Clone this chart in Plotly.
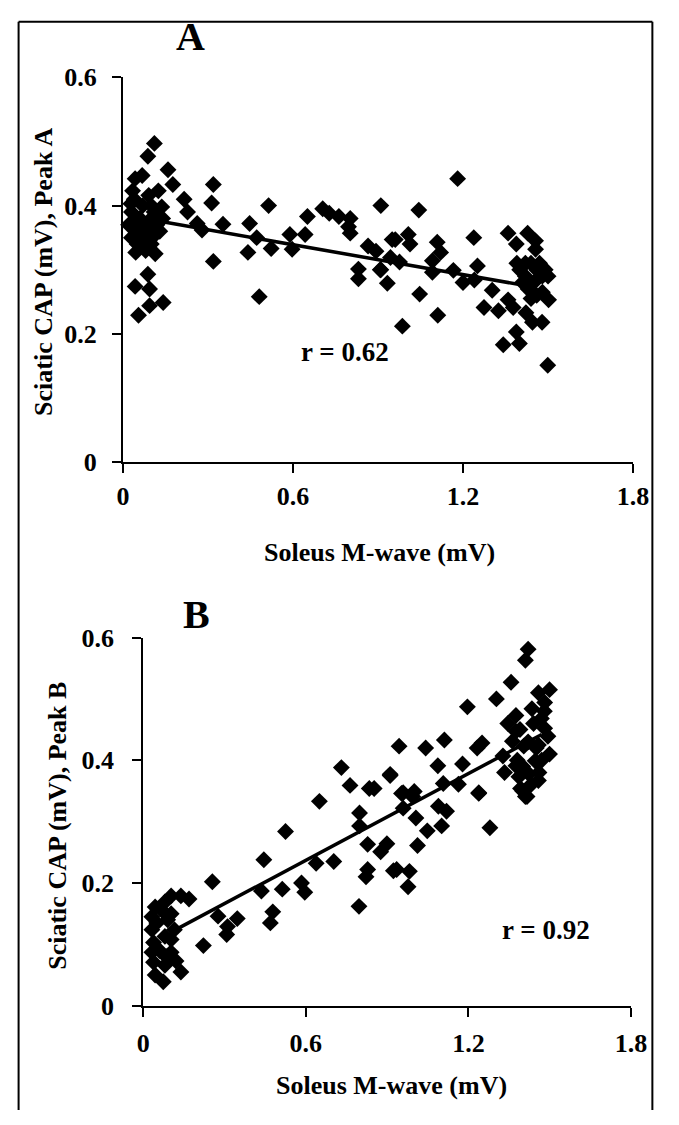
import plotly.graph_objects as go

# ---------------- Data ----------------
a_x = [0.111, 0.088, 0.159, 0.068, 0.043, 0.176, 0.319, 0.034, 0.125, 0.091,
       0.216, 0.313, 0.514, 0.910, 0.137, 0.100, 0.028, 0.228, 0.705, 0.728,
       0.762, 0.802, 0.651, 0.262, 0.353, 0.447, 0.279, 0.796, 0.802, 0.589,
       0.643, 0.472, 0.950, 0.114, 0.523, 0.597, 0.865, 0.893, 0.441, 0.114,
       0.045, 0.319, 0.831, 0.910, 0.831, 0.933, 0.088, 0.043, 0.094, 0.481,
       0.142, 0.094, 0.055,
       0.03, 0.04, 0.05, 0.06, 0.07, 0.08, 0.09, 0.10, 0.05, 0.03,
       0.07, 0.08, 0.12, 0.13, 0.14, 0.06, 0.04, 0.10, 0.11, 0.02,
       1.181, 1.044, 0.961, 1.007, 1.013, 1.109, 1.121, 1.238, 1.359, 1.388,
       1.428, 1.456, 1.456, 0.944, 0.976, 1.092, 1.092, 1.166, 1.251, 1.200,
       1.240, 0.908, 1.047, 1.111, 0.986, 1.303, 1.274, 1.325, 1.359, 1.377,
       1.422, 1.445, 1.479, 1.502, 1.388, 1.399, 1.342, 1.499,
       1.40, 1.42, 1.44, 1.46, 1.48, 1.45, 1.43, 1.47, 1.49, 1.41,
       1.46, 1.50, 1.39, 1.44, 1.48, 1.42]
a_y = [0.497, 0.477, 0.456, 0.447, 0.442, 0.433, 0.433, 0.423, 0.423, 0.416,
       0.410, 0.404, 0.400, 0.400, 0.398, 0.400, 0.403, 0.390, 0.395, 0.388,
       0.383, 0.380, 0.383, 0.372, 0.371, 0.372, 0.362, 0.367, 0.357, 0.355,
       0.355, 0.350, 0.347, 0.355, 0.333, 0.332, 0.337, 0.329, 0.327, 0.325,
       0.327, 0.313, 0.301, 0.300, 0.286, 0.279, 0.293, 0.274, 0.270, 0.258,
       0.249, 0.244, 0.229,
       0.390, 0.370, 0.360, 0.380, 0.350, 0.370, 0.360, 0.380, 0.340, 0.350,
       0.400, 0.330, 0.370, 0.360, 0.380, 0.345, 0.410, 0.340, 0.390, 0.370,
       0.442, 0.393, 0.347, 0.355, 0.340, 0.343, 0.327, 0.350, 0.357, 0.340,
       0.357, 0.345, 0.332, 0.319, 0.312, 0.314, 0.296, 0.299, 0.306, 0.280,
       0.284, 0.300, 0.262, 0.229, 0.212, 0.268, 0.241, 0.236, 0.253, 0.241,
       0.233, 0.218, 0.218, 0.253, 0.203, 0.185, 0.183, 0.151,
       0.300, 0.290, 0.310, 0.300, 0.290, 0.280, 0.270, 0.310, 0.300, 0.280,
       0.260, 0.290, 0.310, 0.255, 0.265, 0.310]

b_x = [0.525, 0.798, 0.798, 0.445, 0.255, 0.703, 0.638, 0.828, 0.876, 0.899,
       0.828, 0.822, 0.796, 0.923, 0.436, 0.513, 0.584, 0.596, 0.478, 0.469,
       0.276, 0.347, 0.311, 0.308, 0.222, 0.169, 0.139, 0.103,
       0.074, 0.044, 0.139, 0.121, 0.038, 0.080, 0.032, 0.103, 0.103, 0.038,
       0.032, 0.115, 0.080, 0.032, 0.044, 0.080, 0.068, 0.103, 0.050, 0.090,
       0.060, 0.085,
       0.959, 0.994, 1.006, 1.048, 1.101, 1.089, 1.119, 1.012, 1.279, 1.238,
       1.416, 0.935, 0.982, 0.977,
       1.420, 1.410, 1.357, 1.499, 1.458, 1.303, 1.196, 1.434, 1.481, 1.375,
       1.345, 1.469, 1.481, 1.493, 1.375, 1.250, 1.232, 1.111, 1.042, 0.944,
       1.362, 1.404, 1.458, 1.499, 1.327, 1.087, 1.178, 1.375, 1.400, 1.446,
       1.333, 1.386, 1.422, 1.458, 0.911, 1.107, 1.163, 1.392, 1.410, 1.238,
       0.959, 1.000, 0.852,
       0.731, 0.763, 0.834, 0.911, 0.953, 0.650,
       1.38, 1.42, 1.45, 1.47, 1.43, 1.40, 1.48, 1.44, 1.39, 1.46]
b_y = [0.284, 0.293, 0.314, 0.238, 0.202, 0.235, 0.232, 0.263, 0.251, 0.264,
       0.222, 0.210, 0.162, 0.220, 0.187, 0.190, 0.200, 0.185, 0.153, 0.135,
       0.146, 0.142, 0.129, 0.116, 0.098, 0.174, 0.179, 0.179,
       0.039, 0.050, 0.055, 0.073, 0.071, 0.066, 0.087, 0.087, 0.108, 0.103,
       0.124, 0.124, 0.113, 0.145, 0.161, 0.169, 0.156, 0.150, 0.135, 0.140,
       0.090, 0.080,
       0.322, 0.341, 0.306, 0.285, 0.293, 0.325, 0.317, 0.261, 0.290, 0.346,
       0.341, 0.222, 0.219, 0.194,
       0.581, 0.563, 0.527, 0.515, 0.510, 0.500, 0.487, 0.484, 0.494, 0.473,
       0.460, 0.468, 0.452, 0.439, 0.447, 0.428, 0.420, 0.433, 0.420, 0.423,
       0.431, 0.423, 0.425, 0.410, 0.407, 0.391, 0.394, 0.391, 0.390, 0.399,
       0.380, 0.373, 0.378, 0.367, 0.375, 0.362, 0.361, 0.354, 0.341, 0.347,
       0.347, 0.349, 0.354,
       0.388, 0.359, 0.354, 0.377, 0.346, 0.333,
       0.400, 0.430, 0.420, 0.400, 0.360, 0.350, 0.480, 0.460, 0.450, 0.380]

# regression lines (end points)
fit_a_x = [0.11, 1.45]
fit_a_y = [0.377, 0.273]
fit_b_x = [0.12, 1.47]
fit_b_y = [0.124, 0.442]

x_ticks = [0, 0.6, 1.2, 1.8]
x_ticktext = ["0", "0.6", "1.2", "1.8"]
y_ticks = [0, 0.2, 0.4, 0.6]
y_ticktext = ["0", "0.2", "0.4", "0.6"]

panel_labels = ["A", "B"]
r_labels = ["r = 0.62", "r = 0.92"]
x_title = "Soleus M-wave (mV)"
y_titles = ["Sciatic CAP (mV), Peak A", "Sciatic CAP (mV), Peak B"]

# ---------------- Figure ----------------
W, H = 679, 1125
FONT = "Liberation Serif"

def px(x):
    return x / W

def py(y):
    return 1 - y / H

fig = go.Figure()
marker = dict(symbol="diamond", size=13, color="black", line=dict(width=0))

fig.add_trace(go.Scatter(x=a_x, y=a_y, mode="markers", marker=marker,
                         xaxis="x", yaxis="y", cliponaxis=False, showlegend=False))
fig.add_trace(go.Scatter(x=fit_a_x, y=fit_a_y, mode="lines",
                         line=dict(color="black", width=3.5),
                         xaxis="x", yaxis="y", showlegend=False))
fig.add_trace(go.Scatter(x=b_x, y=b_y, mode="markers", marker=marker,
                         xaxis="x2", yaxis="y2", cliponaxis=False, showlegend=False))
fig.add_trace(go.Scatter(x=fit_b_x, y=fit_b_y, mode="lines",
                         line=dict(color="black", width=3.5),
                         xaxis="x2", yaxis="y2", showlegend=False))

tickfont = dict(family=FONT, size=26, color="black", weight="bold")
axis_common = dict(showgrid=False, zeroline=False, showline=True, linecolor="black",
                   linewidth=2, ticks="outside", ticklen=9, tickwidth=2,
                   tickcolor="black", tickfont=tickfont)

fig.update_layout(
    width=W, height=H,
    margin=dict(l=0, r=0, t=0, b=0),
    paper_bgcolor="white", plot_bgcolor="white",
    xaxis=dict(domain=[px(120), px(648)], range=[0, 1.8], tickvals=x_ticks,
               ticktext=x_ticktext, anchor="y", ticklabelstandoff=1, **axis_common),
    yaxis=dict(domain=[py(460), py(65)], range=[0, 0.6], tickvals=y_ticks,
               ticktext=y_ticktext, anchor="x", ticklabelstandoff=10, **axis_common),
    xaxis2=dict(domain=[px(141), px(646)], range=[0, 1.8], tickvals=x_ticks,
                ticktext=x_ticktext, anchor="y2", ticklabelstandoff=4, **axis_common),
    yaxis2=dict(domain=[py(1018), py(640)], range=[0, 0.6], tickvals=y_ticks,
                ticktext=y_ticktext, anchor="x2", ticklabelstandoff=13, **axis_common),
)

def ann(text, x, y, size, angle=0):
    fig.add_annotation(text=text, x=px(x), y=py(y), xref="paper", yref="paper",
                       showarrow=False, textangle=angle, xanchor="center", yanchor="middle",
                       font=dict(family=FONT, size=size, color="black", weight="bold"))

ann(panel_labels[0], 190, 23, 40)
ann(panel_labels[1], 196, 616, 40)
ann(r_labels[0], 350, 347, 27)
ann(r_labels[1], 558, 940, 27)
ann(x_title, 386, 553, 26)
ann(x_title, 398, 1100, 26)
ann(y_titles[0], 37, 265, 26, -90)
ann(y_titles[1], 52, 833, 26, -90)

# outer frame (left, top, right edges; bottom runs off the page)
frame = dict(color="black", width=2)
for (x0, y0, x1, y1) in [(12, 1125, 12, 8), (12, 8, 668, 8), (668, 8, 668, 1125)]:
    fig.add_shape(type="line", xref="paper", yref="paper",
                  x0=px(x0), y0=py(y0), x1=px(x1), y1=py(y1), line=frame)

fig.write_html(
    "out.html",
    config={"displayModeBar": False},
    post_script="document.body.style.margin='0';document.body.style.overflow='hidden';",
)
